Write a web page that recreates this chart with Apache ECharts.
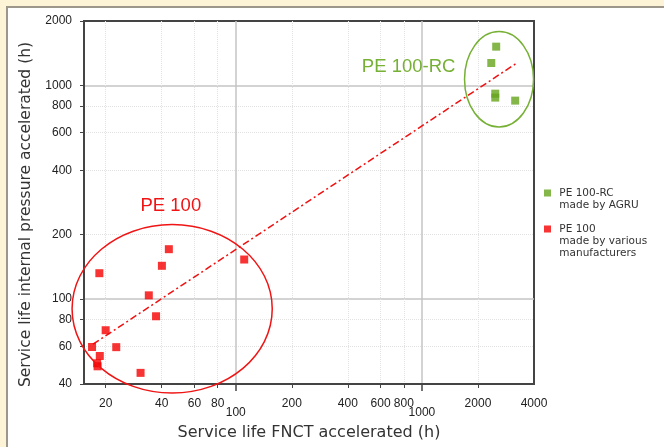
<!DOCTYPE html>
<html>
<head>
<meta charset="utf-8">
<script src="https://cdn.jsdelivr.net/npm/echarts@6/dist/echarts.min.js"></script>
<style>
html, body { margin: 0; padding: 0; background: #fdf3d6; }
#frame {
  position: absolute; left: 6px; top: 6px; width: 658px; height: 441px;
  background: #fff; border-left: 2px solid #9d978b; border-top: 2px solid #9d978b;
  box-sizing: border-box;
}
#main { position: absolute; left: 0; top: 0; width: 664px; height: 447px; }
</style>
</head>
<body>
<div id="frame"></div>
<div id="main"></div>
<script>
// values (hours, log-log)
const pe100RC = [[2506, 1517], [2358, 1272], [2477, 914], [2477, 876], [3170, 848]];
const pe100 = [
  [18.5, 132], [43.7, 171], [40.1, 143], [34.1, 104], [37.3, 83], [20.0, 71.4],
  [16.9, 59.6], [22.8, 59.5], [18.6, 54.1], [18.0, 50.0], [18.1, 48.4], [30.8, 45.1],
  [111, 153]
];
const trendLine = [[17.1, 61.4], [3213, 1267]];

const xMinorTicks = [20, 40, 60, 80, 200, 400, 600, 800, 2000];
const xMinorLabels = [20, 40, 60, 80, 200, 400, 600, 800, 2000, 4000];
const xMajorTicks = [100, 1000];
const yTicks = [40, 60, 80, 100, 200, 400, 600, 800, 1000, 2000];
const yMinorGrid = [60, 80, 200, 400, 600, 800];
const yMajorGrid = [100, 1000];

// ellipse annotations given as data-space bounding boxes
const redEllipse = { x: [13.2, 157], y: [36.3, 223] };
const greenEllipse = { x: [1694, 3977], y: [638, 1784] };
const redLabelAt = [44.8, 274];
const greenLabelAt = [848, 1214];

const legendLines = {
  'PE 100-RC': ['PE 100-RC', 'made by AGRU'],
  'PE 100': ['PE 100', 'made by various', 'manufacturers']
};

const tickFont = { fontSize: 12, color: '#222', fontFamily: 'Liberation Sans' };
const titleFont = { fontSize: 16, color: '#333', fontFamily: 'DejaVu Sans' };
const noNumFormat = v => String(v);

let chart = echarts.init(document.getElementById('main'));
let option = {
  animation: false,
  grid: {
    left: 84, top: 21, right: 130, bottom: 63,
    show: true, borderColor: '#444', borderWidth: 2
  },
  legend: {
    orient: 'vertical',
    left: 544,
    top: 175,
    padding: 0,
    itemWidth: 7,
    itemHeight: 7,
    itemGap: -12,
    icon: 'rect',
    textStyle: { fontSize: 10.5, lineHeight: 12, color: '#333', fontFamily: 'DejaVu Sans' },
    // blank lines in front keep the square level with the first line
    formatter: name => {
      const lines = legendLines[name];
      const pad = new Array(lines.length - 1).fill('');
      return pad.concat(lines.map(l => ' ' + l)).join('\n');
    },
    data: ['PE 100-RC', 'PE 100']
  },
  xAxis: [
    {
      type: 'log', min: 15.3, max: 4000,
      name: 'Service life FNCT accelerated (h)',
      nameLocation: 'middle', nameGap: 41, nameTextStyle: titleFont,
      axisLine: { show: true, lineStyle: { color: '#444', width: 2 } },
      axisTick: { customValues: xMinorTicks, length: 4, lineStyle: { color: '#444' } },
      axisLabel: Object.assign({ customValues: xMinorLabels, margin: 14, formatter: noNumFormat }, tickFont),
      splitLine: { show: true, lineStyle: { color: '#e2e2e2', type: 'dotted', width: 1 } }
    },
    {
      type: 'log', min: 15.3, max: 4000, position: 'bottom',
      axisLine: { show: false },
      axisTick: { customValues: xMajorTicks, length: 7, lineStyle: { color: '#444', width: 1.5 } },
      axisLabel: Object.assign({ customValues: xMajorTicks, margin: 23, formatter: noNumFormat }, tickFont),
      splitLine: { show: true, lineStyle: { color: '#c4c4c4', width: 1.5 } }
    }
  ],
  yAxis: [
    {
      type: 'log', min: 40, max: 2000,
      name: 'Service life internal pressure accelerated (h)',
      nameLocation: 'middle', nameGap: 47,
      nameTextStyle: Object.assign({}, titleFont, { fontSize: 15.5, padding: [0, 24, 0, 0] }),
      axisLine: { show: true, lineStyle: { color: '#444', width: 2 } },
      axisTick: { customValues: yTicks, length: 4, lineStyle: { color: '#444' } },
      axisLabel: Object.assign({ customValues: yTicks, margin: 12, formatter: noNumFormat }, tickFont),
      splitLine: { show: false }
    },
    {
      type: 'log', min: 40, max: 2000, position: 'left',
      axisLine: { show: false },
      axisTick: { show: false, customValues: yMinorGrid },
      axisLabel: { show: false },
      splitLine: { show: true, lineStyle: { color: '#e2e2e2', type: 'dotted', width: 1 } }
    },
    {
      type: 'log', min: 40, max: 2000, position: 'left',
      axisLine: { show: false },
      axisTick: { show: false, customValues: yMajorGrid },
      axisLabel: { show: false },
      splitLine: { show: true, lineStyle: { color: '#c4c4c4', width: 1.5 } }
    }
  ],
  series: [
    {
      name: 'PE 100-RC', type: 'scatter', symbol: 'rect', symbolSize: 8,
      itemStyle: { color: '#66a41d' }, data: pe100RC, z: 4
    },
    {
      name: 'PE 100', type: 'scatter', symbol: 'rect', symbolSize: 8,
      itemStyle: { color: '#f50000' }, data: pe100, z: 4
    },
    {
      name: 'trend', type: 'line', showSymbol: false, symbol: 'none',
      lineStyle: { color: '#f01010', width: 1.5, type: [7, 3, 2, 3] },
      data: trendLine, z: 3
    }
  ]
};
chart.setOption(option);

function ellipseShape(box) {
  const p1 = chart.convertToPixel({ seriesIndex: 0 }, [box.x[0], box.y[1]]);
  const p2 = chart.convertToPixel({ seriesIndex: 0 }, [box.x[1], box.y[0]]);
  return { cx: (p1[0] + p2[0]) / 2, cy: (p1[1] + p2[1]) / 2,
           rx: (p2[0] - p1[0]) / 2, ry: (p2[1] - p1[1]) / 2 };
}
const redPos = chart.convertToPixel({ seriesIndex: 0 }, redLabelAt);
const greenPos = chart.convertToPixel({ seriesIndex: 0 }, greenLabelAt);

chart.setOption({
  graphic: [
    { type: 'ellipse', shape: ellipseShape(redEllipse), z: 10,
      style: { fill: 'none', stroke: '#f01414', lineWidth: 1.5 } },
    { type: 'ellipse', shape: ellipseShape(greenEllipse), z: 10,
      style: { fill: 'none', stroke: '#76b034', lineWidth: 1.5 } },
    { type: 'text', x: redPos[0], y: redPos[1], z: 10,
      style: { text: 'PE 100', fill: '#f01414', font: '18.5px Liberation Sans', align: 'center', verticalAlign: 'middle' } },
    { type: 'text', x: greenPos[0], y: greenPos[1], z: 10,
      style: { text: 'PE 100-RC', fill: '#76b034', font: '18.5px Liberation Sans', align: 'center', verticalAlign: 'middle' } }
  ]
});
</script>
</body>
</html>
